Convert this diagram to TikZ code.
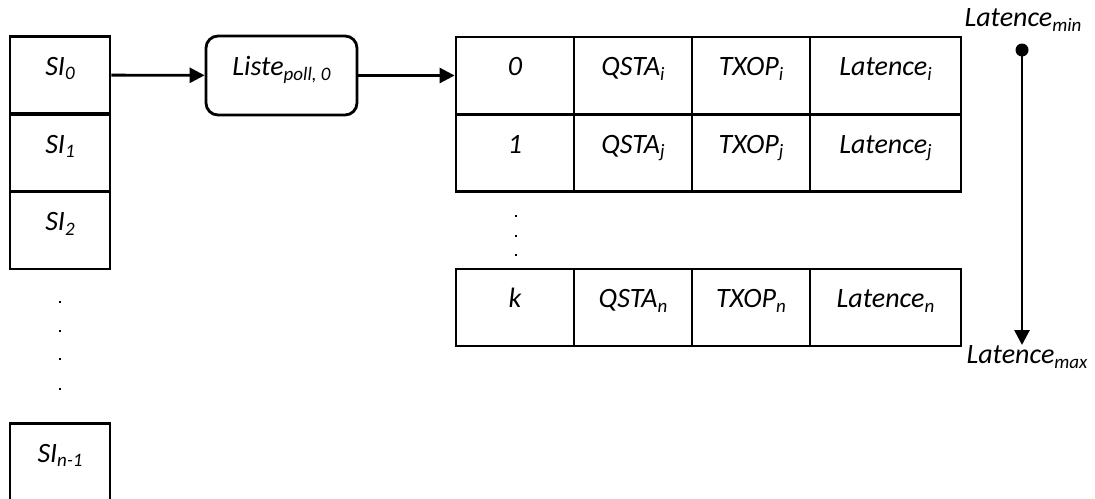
\documentclass[tikz,border=0pt]{standalone}
\usepackage{fontspec}
\setmainfont{Carlito}
\usepackage{tikz}
\usetikzlibrary{arrows.meta,positioning}

\newcommand{\sbs}[1]{\raisebox{-4.5pt}{\fontsize{19}{19}\selectfont #1}}

\tikzset{
  box/.style={draw, line width=2.8pt, inner sep=0pt, minimum height=77pt,
    text height=13pt, text depth=13pt, font=\fontsize{28}{30}\selectfont\itshape},
  sibox/.style={box, minimum width=100pt},
  cell/.style={box, minimum width=118pt},
  latcell/.style={box, minimum width=151pt},
  dotmark/.style={fill=black, inner sep=0pt, minimum size=2.4pt},
  lbl/.style={font=\fontsize{28}{30}\selectfont\itshape, inner sep=0pt},
  link/.style={line width=2.8pt, -{Triangle[length=15pt,width=15pt]}}
}

\begin{document}
\begin{tikzpicture}[x=1pt, y=-1pt]
  \useasboundingbox (0,0) rectangle (1095,498);
  % SI column
  \node[sibox] (si0) at (60,75) {SI\sbs{0}};
  \node[sibox] (si1) at (60,153) {SI\sbs{1}};
  \node[sibox] (si2) at (60,230.5) {SI\sbs{2}};
  \node[sibox] (sin) at (60,462) {SI\sbs{n-1}};
  \node[dotmark] (d1) at (60,302) {};
  \node[dotmark] (d2) at (60,331) {};
  \node[dotmark] (d3) at (60,359) {};
  \node[dotmark] (d4) at (60,389) {};
  % poll list
  \node[box, rounded corners=12pt, minimum width=151pt, minimum height=79pt] (liste) at (281.5,75.5) {Liste\sbs{poll, 0}};
  % table rows
  \node[cell] (r0c0) at (515,75.5) {0};
  \node[cell] (r0c1) at (633,75.5) {QSTA\sbs{i}};
  \node[cell] (r0c2) at (751,75.5) {TXOP\sbs{i}};
  \node[latcell] (r0c3) at (885.5,75.5) {Latence\sbs{i}};
  \node[cell] (r1c0) at (515,153) {1};
  \node[cell] (r1c1) at (633,153) {QSTA\sbs{j}};
  \node[cell] (r1c2) at (751,153) {TXOP\sbs{j}};
  \node[latcell] (r1c3) at (885.5,153) {Latence\sbs{j}};
  \node[dotmark] (t1) at (516,216) {};
  \node[dotmark] (t2) at (516,236) {};
  \node[dotmark] (t3) at (516,255) {};
  \node[cell] (rkc0) at (515,307.5) {k};
  \node[cell] (rkc1) at (633,307.5) {QSTA\sbs{n}};
  \node[cell] (rkc2) at (751,307.5) {TXOP\sbs{n}};
  \node[latcell] (rkc3) at (885.5,307.5) {Latence\sbs{n}};
  % links
  \draw[link] (si0) -- (liste);
  \draw[link] (liste) -- (r0c0);
  % latency axis
  \node[lbl] (latmin) at (1023,20) {Latence\sbs{min}};
  \node[lbl] (latmax) at (1027,357) {Latence\sbs{max}};
  \node[circle, fill=black, inner sep=0pt, minimum size=13pt] (top) at (1022,50) {};
  \coordinate (bot) at (1022,345);
  \draw[link] (top.center) -- (bot);
\end{tikzpicture}
\end{document}
